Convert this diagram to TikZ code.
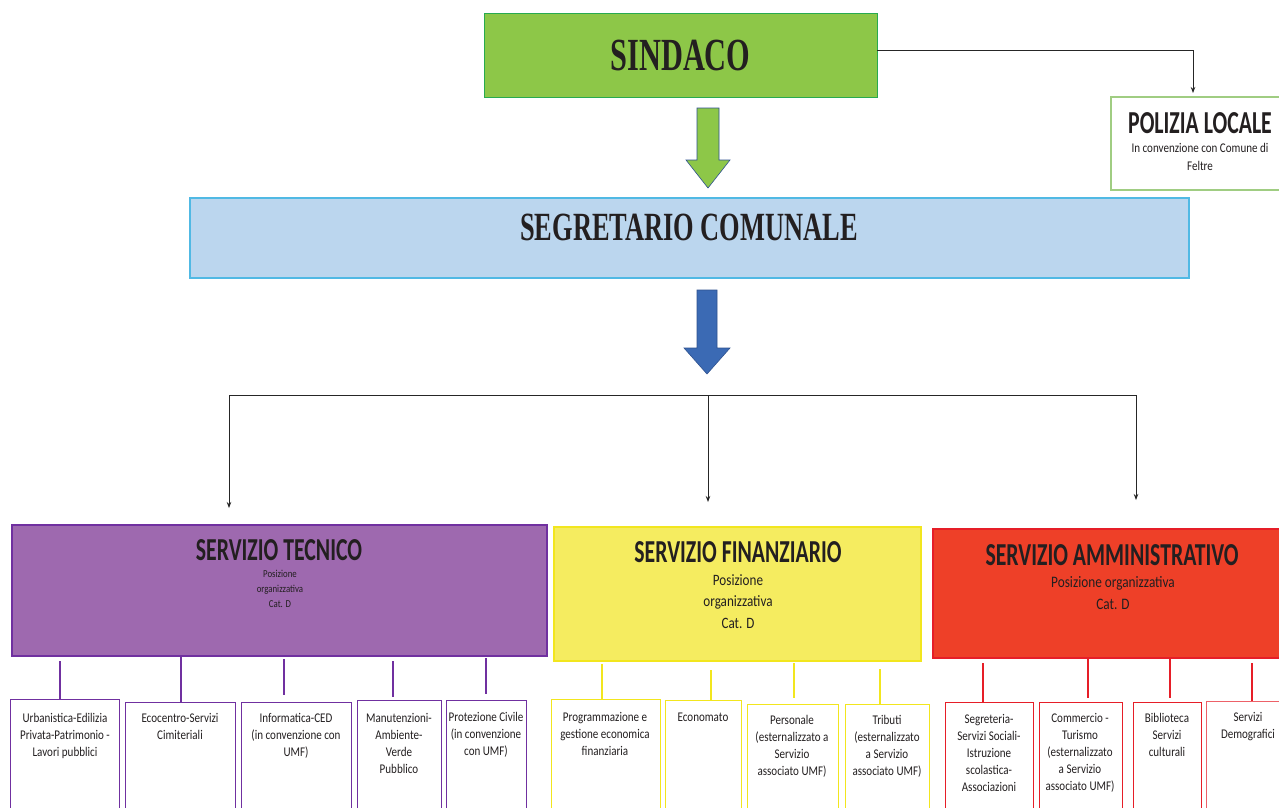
\documentclass[tikz,border=0pt]{standalone}
\usepackage{fontspec}
\setmainfont{Carlito}
\newfontfamily\headserif[FakeStretch=0.66]{Liberation Serif}
\newfontfamily\headsans[FakeStretch=0.68]{Carlito}
\newfontfamily\bodysans[FakeStretch=0.83]{Carlito}
\usetikzlibrary{arrows.meta}

\definecolor{sindgreen}{RGB}{141,199,72}
\definecolor{sindedge}{RGB}{40,170,80}
\definecolor{segblue}{RGB}{187,214,238}
\definecolor{segedge}{RGB}{80,185,228}
\definecolor{arrowblue}{RGB}{59,106,180}
\definecolor{arrowedge}{RGB}{47,82,143}
\definecolor{polgreen}{RGB}{160,205,130}
\definecolor{tecfill}{RGB}{158,105,175}
\definecolor{tecedge}{RGB}{112,48,160}
\definecolor{finfill}{RGB}{245,236,96}
\definecolor{finedge}{RGB}{242,230,30}
\definecolor{ammfill}{RGB}{238,64,40}
\definecolor{ammedge}{RGB}{230,30,40}
\definecolor{inktext}{RGB}{35,31,32}

\tikzset{
  box/.style={draw, inner sep=0pt, outer sep=0pt, anchor=north west},
  subbox/.style={box, fill=white, line width=0.9pt, minimum height=140pt},
  headtext/.style={anchor=base, inner sep=0pt, text=inktext},
  title/.style={anchor=base, inner sep=0pt, text=inktext,
    font=\headsans\bfseries\fontsize{32}{36}\selectfont},
  note/.style={anchor=north, align=center, inner sep=0pt, text=inktext},
  subtext/.style={note, font=\bodysans\fontsize{13.3}{17}\selectfont},
  link/.style={draw=black!85, line width=0.8pt, -{Stealth[length=6pt,width=4.5pt]}},
  tecline/.style={draw=tecedge, line width=1.8pt},
  finline/.style={draw=finedge, line width=1.8pt},
  ammline/.style={draw=ammedge, line width=1.5pt}
}

\begin{document}
\begin{tikzpicture}[x=1pt, y=-1pt]
    \useasboundingbox (0,0) rectangle (1279,807);
    \clip (0,0) rectangle (1279,807);
    \fill[white] (0,0) rectangle (1279,807);

    % sindaco and polizia locale
    \node[box, fill=sindgreen, draw=sindedge, line width=1pt, minimum width=393pt, minimum height=84pt,
          text=inktext, font=\headserif\bfseries\fontsize{46}{50}\selectfont] (sindaco) at (484,13) {SINDACO};
    \node[box, fill=white, draw=polgreen, line width=1.2pt, minimum width=178pt, minimum height=93pt] (polizia) at (1111,97) {};
    \node[title] (polizia-t) at (1200,133) {POLIZIA LOCALE};
    \node[note, font=\bodysans\fontsize{13.3}{18}\selectfont] (polizia-n) at (1200,143) {In convenzione con Comune di\\Feltre};
    \draw[link] ([yshift=5pt]sindaco.east) -| ([xshift=-7pt,yshift=4pt]polizia.north);

    \draw[fill=sindgreen, draw=arrowedge, line width=0.6pt]
      (697,108) -- (719,108) -- (719,160) -- (730,160) -- (708,188) -- (686,160) -- (697,160) -- cycle;

    % segretario comunale
    \node[box, fill=segblue, draw=segedge, line width=1.2pt, minimum width=999pt, minimum height=80pt] (segretario) at (190,198) {};
    \node[headtext, font=\headserif\bfseries\fontsize{40}{44}\selectfont] (segretario-t) at (689,240) {SEGRETARIO COMUNALE};

    \draw[fill=arrowblue, draw=arrowedge, line width=0.6pt]
      (697,290) -- (717,290) -- (717,348) -- (730,348) -- (707,374) -- (684,348) -- (697,348) -- cycle;

    % branches to the three services
    \coordinate (fork) at (708,395);
    \coordinate (tec-in) at (229,508);
    \coordinate (fin-in) at (708,502);
    \coordinate (amm-in) at (1136,500);
    \draw[link] (fork) -| (tec-in);
    \draw[link] (fork) -- (fin-in);
    \draw[link] (fork) -| (amm-in);

    % servizio tecnico
    \node[box, fill=tecfill, draw=tecedge, line width=1.2pt, minimum width=535pt, minimum height=131pt] (tecnico) at (12,525) {};
    \node[title] (tecnico-t) at (279,560) {SERVIZIO TECNICO};
    \node[note, font=\bodysans\fontsize{10.6}{15}\selectfont] (tecnico-n) at (280,570) {Posizione\\organizzativa\\Cat. D};

    \node[subbox, draw=tecedge, minimum width=109pt] (urb) at (10,699) {};
    \node[subtext] (urb-t) at (65,713) {Urbanistica-Edilizia\\Privata-Patrimonio -\\Lavori pubblici};
    \draw[tecline, shorten <=5pt] ([xshift=-4.5pt]urb.north |- tecnico.south) -- ([xshift=-4.5pt]urb.north);
    \node[subbox, draw=tecedge, minimum width=110pt] (eco) at (125,702) {};
    \node[subtext] (eco-t) at (180,713) {Ecocentro-Servizi\\Cimiteriali};
    \draw[tecline] ([xshift=1pt]eco.north |- tecnico.south) -- ([xshift=1pt]eco.north);
    \node[subbox, draw=tecedge, minimum width=110pt] (ced) at (241,702) {};
    \node[subtext] (ced-t) at (296,713) {Informatica-CED\\(in convenzione con\\UMF)};
    \draw[tecline, shorten <=3pt, shorten >=7pt] ([xshift=-12pt]ced.north |- tecnico.south) -- ([xshift=-12pt]ced.north);
    \node[subbox, draw=tecedge, minimum width=84pt] (man) at (357,700) {};
    \node[subtext] (man-t) at (399,713) {Manutenzioni-\\Ambiente-\\Verde\\Pubblico};
    \draw[tecline, shorten <=5pt, shorten >=3pt] ([xshift=-6pt]man.north |- tecnico.south) -- ([xshift=-6pt]man.north);
    \node[subbox, draw=tecedge, minimum width=80pt] (prot) at (446,700) {};
    \node[subtext] (prot-t) at (486,712) {Protezione Civile\\(in convenzione\\con UMF)};
    \draw[tecline, shorten <=2pt, shorten >=6pt] (prot.north |- tecnico.south) -- (prot.north);

    % servizio finanziario
    \node[box, fill=finfill, draw=finedge, line width=1.2pt, minimum width=367pt, minimum height=134pt] (finanziario) at (554,527) {};
    \node[title] (finanziario-t) at (738,562) {SERVIZIO FINANZIARIO};
    \node[note, font=\bodysans\fontsize{15.8}{21.5}\selectfont] (finanziario-n) at (738,574) {Posizione\\organizzativa\\Cat. D};

    \node[subbox, draw=finedge, minimum width=109pt] (prog) at (551,699) {};
    \node[subtext] (prog-t) at (605,712) {Programmazione e\\gestione economica\\finanziaria};
    \draw[finline, shorten <=3pt] ([xshift=-3.5pt]prog.north |- finanziario.south) -- ([xshift=-3.5pt]prog.north);
    \node[subbox, draw=finedge, minimum width=76pt] (econ) at (665,700) {};
    \node[subtext] (econ-t) at (703,713) {Economato};
    \draw[finline, shorten <=9pt] ([xshift=8pt]econ.north |- finanziario.south) -- ([xshift=8pt]econ.north);
    \node[subbox, draw=finedge, minimum width=91pt] (pers) at (747,704) {};
    \node[subtext] (pers-t) at (792,715) {Personale\\(esternalizzato a\\Servizio\\associato UMF)};
    \draw[finline, shorten <=2pt, shorten >=6pt] ([xshift=1.5pt]pers.north |- finanziario.south) -- ([xshift=1.5pt]pers.north);
    \node[subbox, draw=finedge, minimum width=84pt] (trib) at (845,704) {};
    \node[subtext] (trib-t) at (887,715) {Tributi\\(esternalizzato\\a Servizio\\associato UMF)};
    \draw[finline, shorten <=8pt] ([xshift=-7pt]trib.north |- finanziario.south) -- ([xshift=-7pt]trib.north);

    % servizio amministrativo
    \node[box, fill=ammfill, draw=ammedge, line width=1.2pt, minimum width=359pt, minimum height=129pt] (amministrativo) at (933,529) {};
    \node[title] (amministrativo-t) at (1112,565) {SERVIZIO AMMINISTRATIVO};
    \node[note, font=\bodysans\fontsize{16}{22}\selectfont] (amministrativo-n) at (1113,576) {Posizione organizzativa\\Cat. D};

    \node[subbox, draw=ammedge, minimum width=88pt] (segr) at (945,702) {};
    \node[subtext] (segr-t) at (989,714) {Segreteria-\\Servizi Sociali-\\Istruzione\\scolastica-\\Associazioni};
    \draw[ammline, shorten <=5pt] ([xshift=-6pt]segr.north |- amministrativo.south) -- ([xshift=-6pt]segr.north);
    \node[subbox, draw=ammedge, minimum width=83pt] (comm) at (1039,702) {};
    \node[subtext] (comm-t) at (1080,713) {Commercio -\\Turismo\\(esternalizzato\\a Servizio\\associato UMF)};
    \draw[ammline, shorten >=4pt] ([xshift=7.5pt]comm.north |- amministrativo.south) -- ([xshift=7.5pt]comm.north);
    \node[subbox, draw=ammedge, minimum width=68pt] (bibl) at (1133,702) {};
    \node[subtext] (bibl-t) at (1167,713) {Biblioteca\\Servizi\\culturali};
    \draw[ammline, shorten >=4pt] ([xshift=3pt]bibl.north |- amministrativo.south) -- ([xshift=3pt]bibl.north);
    \node[subbox, draw=ammedge!70, minimum width=84pt] (demo) at (1206,701) {};
    \node[subtext] (demo-t) at (1248,712) {Servizi\\Demografici};
    \draw[ammline, shorten <=5pt] ([xshift=4pt]demo.north |- amministrativo.south) -- ([xshift=4pt]demo.north);
\end{tikzpicture}
\end{document}
